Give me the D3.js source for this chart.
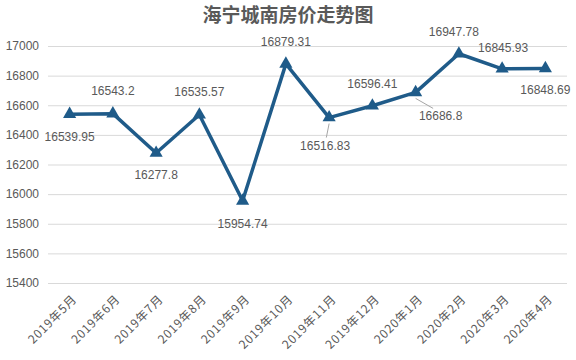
<!DOCTYPE html>
<html><head><meta charset="utf-8">
<script src="https://cdn.jsdelivr.net/npm/d3@7"></script>
<style>body{margin:0;background:#fff}svg{display:block}</style>
</head><body>
<svg id="c" width="576" height="360"></svg>
<script>
const categories = ["2019年5月","2019年6月","2019年7月","2019年8月","2019年9月","2019年10月","2019年11月","2019年12月","2020年1月","2020年2月","2020年3月","2020年4月"];
const prices = [16539.95,16543.2,16277.8,16535.57,15954.74,16879.31,16516.83,16596.41,16686.8,16947.78,16845.93,16848.69];
const yTicks = [15400,15600,15800,16000,16200,16400,16600,16800,17000];
const title = "海宁城南房价走势图";

// label placement (dx, dy relative to point; leader = draw connector)
const labelPlace = [
  {dx:0,dy:27},{dx:0,dy:-19},{dx:0,dy:26},{dx:0,dy:-19},{dx:0,dy:27},{dx:0,dy:-18},
  {dx:-4,dy:32,leader:true},{dx:0,dy:-18},{dx:25,dy:28,leader:true},{dx:-5,dy:-18},{dx:1,dy:-17},{dx:0,dy:26}
];

const svg = d3.select("#c");
const m = {l:48, r:9, t:46, b:77};
const W = 576, H = 360;
const x = d3.scaleBand().domain(categories).range([m.l, W-m.r]);
const y = d3.scaleLinear().domain([15400,17000]).range([H-m.b, m.t]);
const grey = "#595959";

svg.append("text").attr("x",288).attr("y",22).attr("text-anchor","middle")
  .attr("font-family","'Noto Sans CJK SC'").attr("font-size",19).attr("font-weight","bold")
  .attr("fill",grey).text(title);

// grid
svg.append("g").selectAll("line").data(yTicks).join("line")
  .attr("x1",m.l).attr("x2",W-m.r).attr("y1",d=>y(d)+0.5).attr("y2",d=>y(d)+0.5)
  .attr("stroke","#d9d9d9").attr("stroke-width",1);

// y axis labels
const ya = svg.append("g").attr("transform",`translate(${m.l},0)`)
  .call(d3.axisLeft(y).tickValues(yTicks).tickSize(0).tickPadding(9).tickFormat(d3.format("d")));
ya.select(".domain").remove();
ya.selectAll("text").attr("font-family","'Liberation Sans'").attr("font-size",12).attr("fill",grey);

// x axis labels
const xa = svg.append("g").attr("transform",`translate(0,${H-m.b})`)
  .call(d3.axisBottom(x).tickSize(0).tickPadding(0));
xa.select(".domain").remove();
xa.selectAll("text").attr("font-family","'Noto Sans CJK SC'").attr("font-size",12).attr("fill",grey)
  .attr("letter-spacing","0.8px")
  .attr("text-anchor","end").attr("dy",0).attr("transform","translate(8,17) rotate(-45)");

const cx = d => x(d) + x.bandwidth()/2;
const pts = categories.map((c,i)=>({c, v:prices[i], p:labelPlace[i]}));

// leader lines
svg.append("g").selectAll("line").data(pts.filter(d=>d.p.leader)).join("line")
  .attr("x1",d=>cx(d.c)).attr("y1",d=>y(d.v)+6)
  .attr("x2",d=>cx(d.c)+d.p.dx*0.7).attr("y2",d=>y(d.v)+d.p.dy-12)
  .attr("stroke","#a6a6a6").attr("stroke-width",1);

svg.append("path").datum(pts)
  .attr("d", d3.line().x(d=>cx(d.c)).y(d=>y(d.v)))
  .attr("fill","none").attr("stroke","#1f5b89").attr("stroke-width",3.5).attr("stroke-linejoin","round");

svg.append("g").selectAll("path").data(pts).join("path")
  .attr("d", d3.symbol(d3.symbolTriangle, 75))
  .attr("transform", d=>`translate(${cx(d.c)},${y(d.v)})`)
  .attr("fill","#1f5b89");

svg.append("g").selectAll("text").data(pts).join("text")
  .attr("x",d=>cx(d.c)+d.p.dx).attr("y",d=>y(d.v)+d.p.dy)
  .attr("text-anchor","middle").attr("font-family","'Liberation Sans'").attr("font-size",12)
  .attr("fill",grey).text(d=>String(d.v));
</script>
</body></html>
